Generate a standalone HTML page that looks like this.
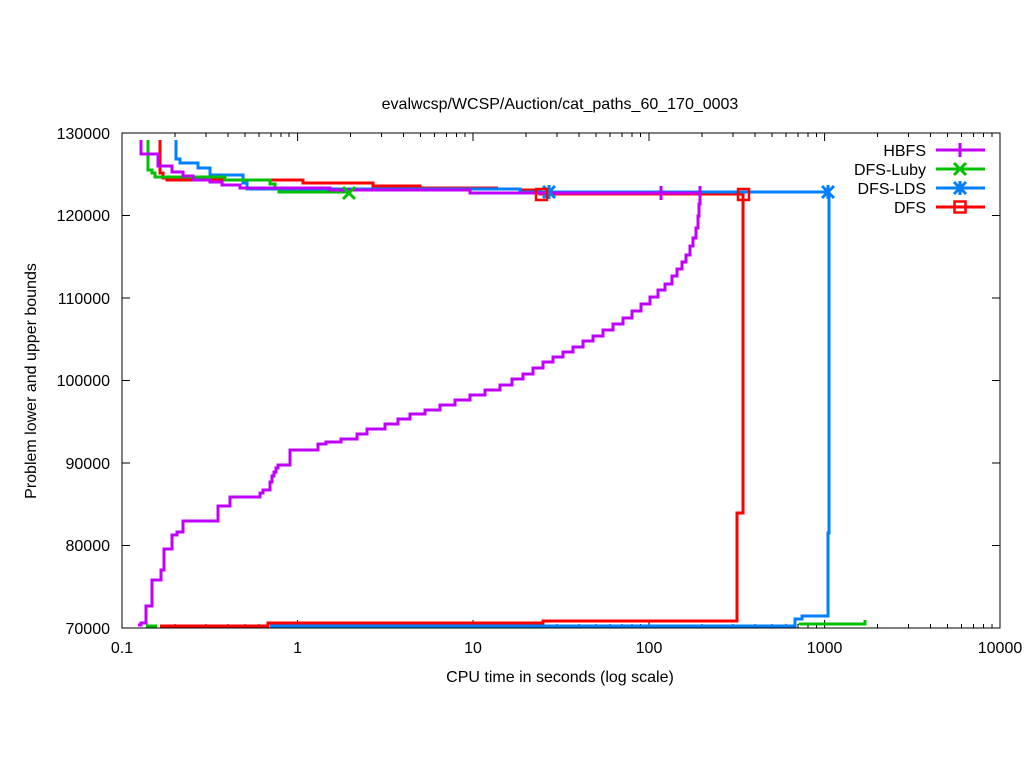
<!DOCTYPE html>
<html><head><style>body{margin:0;background:#fff}svg{display:block}text{font-family:"Liberation Sans",sans-serif;font-size:16px;fill:#000}</style></head>
<body>
<svg width="1024" height="768" viewBox="0 0 1024 768">
<rect width="1024" height="768" fill="#fff"/>
<text x="560" y="109" text-anchor="middle">evalwcsp/WCSP/Auction/cat_paths_60_170_0003</text>
<g stroke="#000" stroke-width="1" fill="none">
<rect x="122" y="133" width="878" height="495"/>
<path d="M122 628h8M122 545.5h8M122 463h8M122 380.5h8M122 298h8M122 215.5h8M122 133h8M1000 628h-8M1000 545.5h-8M1000 463h-8M1000 380.5h-8M1000 298h-8M1000 215.5h-8M1000 133h-8"/>
<path d="M122 628v-8M297.6 628v-8M473 628v-8M649 628v-8M824.6 628v-8M1000 628v-8M122 133v8M297.6 133v8M473 133v8M649 133v8M824.6 133v8"/>
<path d="M175 628v-4M206 628v-4M228 628v-4M245 628v-4M259 628v-4M271 628v-4M281 628v-4M289 628v-4M350.5 628v-4M381.5 628v-4M403.5 628v-4M420.5 628v-4M434.5 628v-4M446.5 628v-4M456.5 628v-4M465 628v-4M526 628v-4M557 628v-4M579 628v-4M596 628v-4M610 628v-4M622 628v-4M632 628v-4M640.5 628v-4M702 628v-4M733 628v-4M755 628v-4M772 628v-4M786 628v-4M798 628v-4M808 628v-4M816.5 628v-4M877.5 628v-4M908.5 628v-4M930.5 628v-4M947.5 628v-4M961.5 628v-4M973.5 628v-4M983.5 628v-4M992 628v-4"/>
<path d="M175 133v4M206 133v4M228 133v4M245 133v4M259 133v4M271 133v4M281 133v4M289 133v4M350.5 133v4M381.5 133v4M403.5 133v4M420.5 133v4M434.5 133v4M446.5 133v4M456.5 133v4M465 133v4M526 133v4M557 133v4M579 133v4M596 133v4M610 133v4M622 133v4M632 133v4M640.5 133v4M702 133v4M733 133v4M755 133v4M772 133v4M786 133v4M798 133v4M808 133v4M816.5 133v4M877.5 133v4M908.5 133v4M930.5 133v4M947.5 133v4M961.5 133v4M973.5 133v4M983.5 133v4M992 133v4"/>
</g>
<g text-anchor="end">
<text x="110" y="634">70000</text><text x="110" y="551">80000</text><text x="110" y="469">90000</text><text x="110" y="386">100000</text><text x="110" y="304">110000</text><text x="110" y="221">120000</text><text x="110" y="139">130000</text>
</g>
<g text-anchor="middle">
<text x="122" y="653">0.1</text><text x="297.6" y="653">1</text><text x="473" y="653">10</text><text x="649" y="653">100</text><text x="824.6" y="653">1000</text><text x="1000" y="653">10000</text>
<text x="560" y="682">CPU time in seconds (log scale)</text>
<text transform="translate(36,381) rotate(-90)">Problem lower and upper bounds</text>
</g>
<g fill="none" stroke-width="3">
<polyline stroke="#ff0000" points="160,140 160,173 163,173 163,178 167,178 167,180 303,180 303,183 373,183 373,186 420,186 420,188 498,188"/>
<polyline stroke="#ff0000" points="160,626 268,626 268,623 543,623 543,621 737,621 737,513 743,513 743,194 540,194 540,190 520,190"/>
<polyline stroke="#0080ff" points="176,140 176,159 180,159 180,163 198,163 198,168 210,168 210,175 243,175 243,183 247,183 247,189 520,189 520,192 829,192 829,533 828,533 828,616 802,616 802,619 795,619 795,626 270,626"/>
<polyline stroke="#00c000" points="148,140 148,170 152,170 152,173 155,173 155,177 225,177 225,180 270,180 270,184 275,184 275,188 279,188 279,192 350,192"/>
<polyline stroke="#00c000" points="146,626 157,626"/>
<polyline stroke="#00c000" points="800,625 800,624 865,624 865,620"/>
<polyline stroke="#c000ff" points="141,140 141,154 158,154 158,166 172,166 172,172 183,172 183,176 193,176 193,180 210,180 210,182 222,182 222,185 240,185 240,188 330,188 330,190 470,190 470,193 700,193"/>
<polyline stroke="#c000ff" points="138,625 141,625 141,623 146,623 146,606 152,606 152,580 161,580 161,570 164,570 164,549 172,549 172,535 177,535 177,532 183,532 183,521 218,521 218,506 230,506 230,497 260,497 260,493 263,493 263,490 270,490 270,482 272,482 272,476 274,476 274,472 276,472 276,468 278,468 278,465 290,465 290,450 318,450 318,444 326,444 326,442 341,442 341,439 357,439 357,434 367,434 367,429 385,429 385,424 398,424 398,419 410,419 410,414 425,414 425,410 440,410 440,405 455,405 455,400 470,400 470,395 485,395 485,390 500,390 500,385 512,385 512,379 523,379 523,374 533,374 533,368 543,368 543,362 553,362 553,357 563,357 563,352 573,352 573,347 583,347 583,341 593,341 593,336 603,336 603,330 613,330 613,324 623,324 623,318 632,318 632,311 641,311 641,304 650,304 650,297 658,297 658,290 665,290 665,284 672,284 672,276 677,276 677,269 682,269 682,262 686,262 686,255 690,255 690,246 693,246 693,238 696,238 696,228 698,228 698,216 699,216 699,204 700,204 700,190"/>
</g>
<g stroke-width="3" fill="none">
<path stroke="#c000ff" d="M661 186v14M700 186v14"/>
<path stroke="#00c000" d="M343 187l12 12M355 187l-12 12"/>
<path stroke="#0080ff" d="M543 186l12 12M555 186l-12 12M549 185v14M822 186l12 12M834 186l-12 12M828 185v14"/>
<rect stroke="#ff0000" stroke-width="2.5" x="536" y="189" width="11" height="11"/>
<rect stroke="#ff0000" stroke-width="2.5" x="738" y="189" width="11" height="11"/>
</g>
<g text-anchor="end">
<text x="926" y="156">HBFS</text><text x="926" y="175">DFS-Luby</text><text x="926" y="194">DFS-LDS</text><text x="926" y="213">DFS</text>
</g>
<g stroke-width="3" fill="none">
<path stroke="#c000ff" d="M936 150h49"/><path stroke="#c000ff" d="M960 143v14"/>
<path stroke="#00c000" d="M936 169h49"/><path stroke="#00c000" d="M954 163l12 12M966 163l-12 12"/>
<path stroke="#0080ff" d="M936 188h49"/><path stroke="#0080ff" d="M954 182l12 12M966 182l-12 12M960 181v14"/>
<path stroke="#ff0000" d="M936 207h49"/><rect stroke="#ff0000" stroke-width="2.5" x="954.5" y="201.5" width="11" height="11"/>
</g>
</svg>
</body></html>
